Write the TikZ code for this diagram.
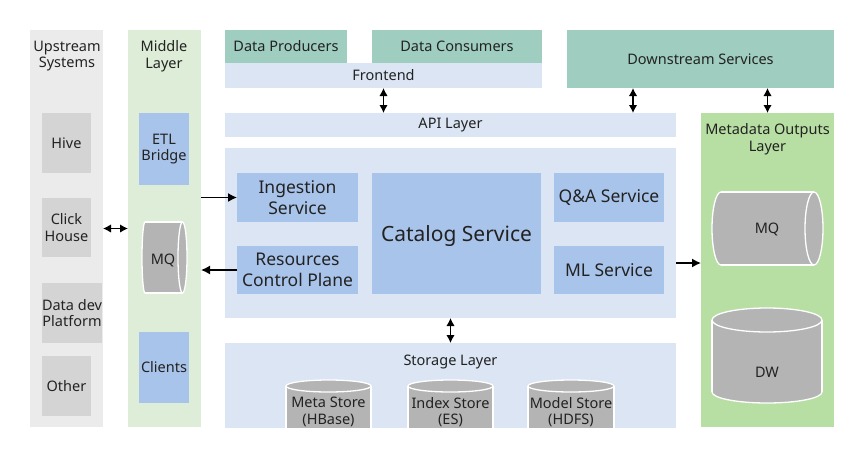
\documentclass[tikz,border=0pt]{standalone}
\usepackage{fontspec}
\setmainfont{Noto Sans}
\usetikzlibrary{arrows.meta}

\definecolor{upgray}{HTML}{EBEBEB}
\definecolor{upitem}{HTML}{D4D4D4}
\definecolor{midgreen}{HTML}{DDEDD7}
\definecolor{svcblue}{HTML}{A9C4EA}
\definecolor{teal}{HTML}{9FCDBF}
\definecolor{layerblue}{HTML}{DBE5F3}
\definecolor{outgreen}{HTML}{B8DFA3}
\definecolor{cylgray}{HTML}{B4B4B4}
\definecolor{textgray}{HTML}{222222}

\tikzset{
	panel/.style={anchor=north west, inner sep=0pt, outer sep=0pt, text=textgray},
	txt/.style={font=\fontsize{14.5}{16.5}\selectfont, align=center, inner sep=0pt, text=textgray},
	bigtxt/.style={font=\fontsize{17.5}{21.5}\selectfont, align=center, inner sep=0pt, text=textgray},
	cylfill/.style={fill=cylgray, draw=white, line width=1.3pt},
	cylline/.style={draw=white, line width=1.3pt},
	arr/.style={-{Latex[length=9pt,width=9pt]}, line width=1.4pt},
	dblarr/.style={{Latex[length=8pt,width=8.5pt]}-{Latex[length=8pt,width=8.5pt]}, line width=1.4pt}
}

\begin{document}
\begin{tikzpicture}[x=1pt, y=-1pt]
	\fill[white] (0,0) rectangle (863,464);
	\useasboundingbox (0,0) rectangle (863,464);

	% upstream column
	\node[panel, fill=upgray, minimum width=73pt, minimum height=397pt] (upstream) at (30,30) {};
	\node[txt] (uptitle) at (67,56) {Upstream\\Systems};
	\node[panel, txt, fill=upitem, minimum width=49pt, minimum height=60pt] (hive) at (42,113) {Hive};
	\node[panel, txt, fill=upitem, minimum width=49pt, minimum height=59pt] (click) at (42,198) {Click\\House};
	\node[panel, txt, fill=upitem, minimum width=49pt, minimum height=60pt] (datadev) at (42,283) {Data dev\\Platform};
	\node[panel, txt, fill=upitem, minimum width=49pt, minimum height=60pt] (other) at (42,356) {Other};

	% middle column
	\node[panel, fill=midgreen, minimum width=73pt, minimum height=397pt] (middle) at (128,30) {};
	\node[txt] (midtitle) at (164,56) {Middle\\Layer};
	\node[panel, txt, fill=svcblue, minimum width=50pt, minimum height=72pt] (etl) at (139,113) {ETL\\Bridge};
	\node[panel, txt, fill=svcblue, minimum width=50pt, minimum height=71pt] (clients) at (139,332) {Clients};
	\filldraw[cylfill] (145,257.5) ellipse (3 and 35.5);
	\fill[cylgray] (145,222) rectangle (182.5,293);
	\draw[cylline] (145,222) -- (182.5,222) (145,293) -- (182.5,293);
	\filldraw[cylfill] (182.5,257.5) ellipse (4.5 and 35.5);
	\node[txt] (midmq) at (163,260) {MQ};

	% top row
	\node[panel, txt, fill=teal, minimum width=122pt, minimum height=33pt] (producers) at (225,30) {Data Producers};
	\node[panel, txt, fill=teal, minimum width=170pt, minimum height=33pt] (consumers) at (372,30) {Data Consumers};
	\node[panel, txt, fill=layerblue, minimum width=317pt, minimum height=25pt] (frontend) at (225,63) {Frontend};
	\node[panel, txt, fill=teal, minimum width=267pt, minimum height=58pt] (downstream) at (567,30) {Downstream Services};
	\node[panel, txt, fill=layerblue, minimum width=451pt, minimum height=24pt] (api) at (225,113) {API Layer};

	% core services
	\node[panel, fill=layerblue, minimum width=451pt, minimum height=170pt] (main) at (225,148) {};
	\node[panel, bigtxt, fill=svcblue, minimum width=121pt, minimum height=49pt] (ingestion) at (237,173) {Ingestion\\Service};
	\node[panel, bigtxt, fill=svcblue, minimum width=121pt, minimum height=48pt] (resources) at (237,246) {Resources\\Control Plane};
	\node[panel, bigtxt, font=\fontsize{21}{24}\selectfont, text depth=0pt, fill=svcblue, minimum width=169pt, minimum height=121pt] (catalog) at (372,173) {Catalog Service};
	\node[panel, bigtxt, fill=svcblue, minimum width=110pt, minimum height=49pt] (qa) at (554,173) {Q\&A Service};
	\node[panel, bigtxt, fill=svcblue, minimum width=110pt, minimum height=48pt] (ml) at (554,246) {ML Service};

	% storage
	\node[panel, fill=layerblue, minimum width=451pt, minimum height=85pt] (storage) at (225,343) {};
	\node[txt] (stortitle) at (450.5,362) {Storage Layer};
	\fill[cylgray] (286,386) rectangle (371,428);
	\draw[cylline] (286,386) -- (286,428) (371,386) -- (371,428);
	\filldraw[cylfill] (328.5,386) ellipse (42.5 and 6);
	\node[txt] (metastore) at (328.5,412) {Meta Store\\(HBase)};
	\fill[cylgray] (408,386) rectangle (493,428);
	\draw[cylline] (408,386) -- (408,428) (493,386) -- (493,428);
	\filldraw[cylfill] (450.5,386) ellipse (42.5 and 6);
	\node[txt] (indexstore) at (450.5,412) {Index Store\\(ES)};
	\fill[cylgray] (528,386) rectangle (614,428);
	\draw[cylline] (528,386) -- (528,428) (614,386) -- (614,428);
	\filldraw[cylfill] (571,386) ellipse (43 and 6);
	\node[txt] (modelstore) at (571,412) {Model Store\\(HDFS)};

	% metadata outputs
	\node[panel, fill=outgreen, minimum width=133pt, minimum height=314pt] (metadata) at (701,113) {};
	\node[txt] (outtitle) at (767.5,139) {Metadata Outputs\\Layer};
	\filldraw[cylfill] (721,228.5) ellipse (9 and 36.5);
	\fill[cylgray] (721,192) rectangle (814,265);
	\draw[cylline] (721,192) -- (814,192) (721,265) -- (814,265);
	\filldraw[cylfill] (814,228.5) ellipse (9 and 36.5);
	\node[txt] (outmq) at (767,229) {MQ};
	\filldraw[cylfill] (767,392) ellipse (55 and 11);
	\fill[cylgray] (712,320) rectangle (822,392);
	\draw[cylline] (712,320) -- (712,392) (822,320) -- (822,392);
	\filldraw[cylfill] (767,320) ellipse (55 and 12);
	\node[txt] (dw) at (767,372) {DW};

	% connectors
	\draw[dblarr] (upstream.east) -- (middle.west);
	\draw[arr] (ingestion.west -| middle.east) -- (ingestion.west);
	\draw[arr] (resources.west) -- (resources.west -| middle.east);
	\draw[dblarr] (frontend.south) -- (frontend.south |- api.north);
	\draw[dblarr] ([xshift=66pt]downstream.south west) -- ([xshift=66pt]downstream.south west |- api.north);
	\draw[dblarr] (metadata.north |- downstream.south) -- (metadata.north);
	\draw[arr] ([yshift=-30pt]main.east) -- ([yshift=-30pt]main.east -| metadata.west);
	\draw[dblarr] (main.south) -- (storage.north);
\end{tikzpicture}
\end{document}
